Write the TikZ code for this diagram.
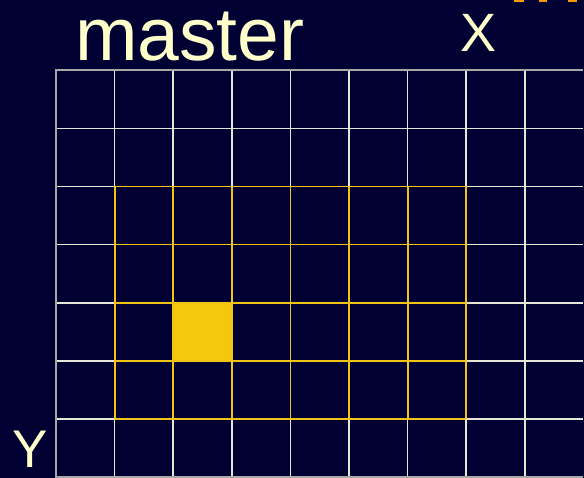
\documentclass[tikz,border=0pt]{standalone}
\usepackage{fontspec}
\setmainfont{Liberation Sans}
\definecolor{bgnavy}{HTML}{000033}
\definecolor{gridwhite}{HTML}{E6E6D6}
\definecolor{gridgray}{HTML}{A8A8A8}
\definecolor{goldline}{HTML}{F2C414}
\definecolor{goldfill}{HTML}{F5C70E}
\definecolor{cream}{HTML}{FFFFCC}
\definecolor{orangemark}{HTML}{FF9900}
\begin{document}
\begin{tikzpicture}[x=1pt,y=-1pt,
  gridln/.style={draw=gridwhite,line width=1.7pt},
  borderln/.style={draw=gridgray,line width=1.7pt},
  goldln/.style={draw=goldline,line width=1.8pt},
  label/.style={text=cream,inner sep=0pt,anchor=base west}]
\fill[bgnavy] (0,0) rectangle (584,478);
\useasboundingbox (0,0) rectangle (584,478);
\def\xo{56}\def\dx{58.6}\def\yo{70.3}\def\dy{58.1}
% white grid
\foreach \k in {1,...,8} {
  \draw[gridln] ({\xo+\k*\dx},\yo) -- ({\xo+\k*\dx},{\yo+7*\dy});
}
\foreach \k in {1,...,6} {
  \draw[gridln] (\xo,{\yo+\k*\dy}) -- ({\xo+9*\dx},{\yo+\k*\dy});
}
\draw[borderln] ({\xo+9*\dx},\yo) -- (\xo,\yo) -- (\xo,{\yo+7*\dy}) -- ({\xo+9*\dx},{\yo+7*\dy});
% gold region
\fill[goldfill] ({\xo+2*\dx},{\yo+4*\dy}) rectangle ({\xo+3*\dx},{\yo+5*\dy});
\foreach \k in {1,...,7} {
  \draw[goldln] ({\xo+\k*\dx},{\yo+2*\dy}) -- ({\xo+\k*\dx},{\yo+6*\dy});
}
\foreach \k in {2,...,6} {
  \draw[goldln] ({\xo+1*\dx},{\yo+\k*\dy}) -- ({\xo+7*\dx},{\yo+\k*\dy});
}
% labels
\node[label,font=\fontsize{75}{75}\selectfont] (title) at (75,61) {master};
\node[label,font=\fontsize{54}{54}\selectfont] (xlab) at (460,52) {X};
\node[label,font=\fontsize{53}{53}\selectfont] (ylab) at (12,467) {Y};
% cut-off orange marks at top right
\fill[orangemark] (514,0) rectangle (524,2.2);
\fill[orangemark] (539,0) rectangle (547,2.2);
\fill[orangemark] (568,0) rectangle (577,2.2);
\end{tikzpicture}
\end{document}
